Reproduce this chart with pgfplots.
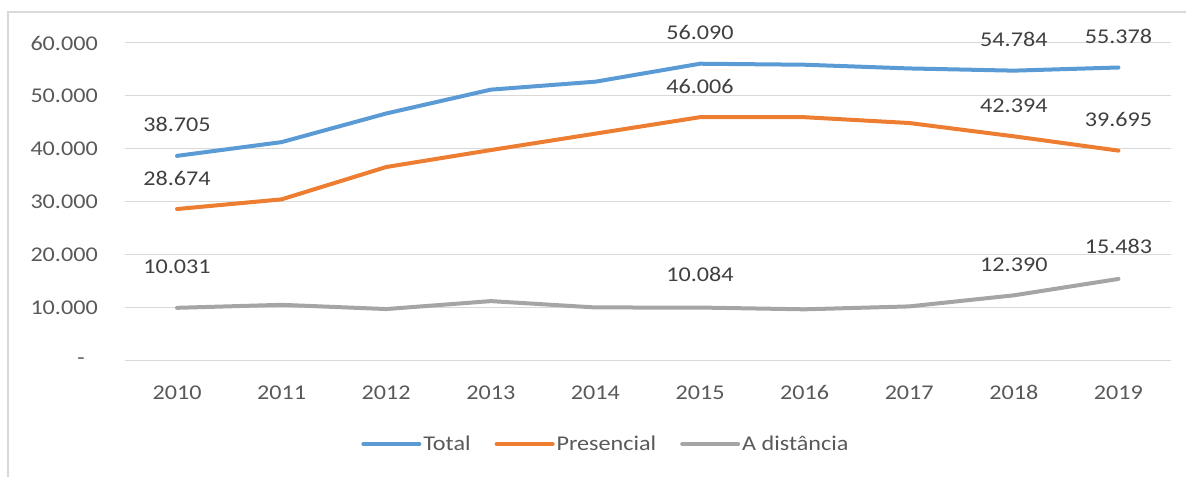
\documentclass[border=0pt]{standalone}
\usepackage{pgfplots}
\pgfplotsset{compat=1.18}
\usepackage{fontspec}
\setmainfont{Carlito}[FakeStretch=1.15]
\definecolor{cTotal}{HTML}{5B9BD5}
\definecolor{cPres}{HTML}{ED7D31}
\definecolor{cDist}{HTML}{A5A5A5}
\definecolor{cGrid}{HTML}{D9D9D9}
\definecolor{cText}{HTML}{595959}
\definecolor{cLab}{HTML}{404040}
\newcommand{\cf}{\fontsize{21bp}{25bp}\selectfont}
\begin{document}
\begin{tikzpicture}
\path[use as bounding box] (0,0) rectangle (1186bp,477bp);
\draw[cGrid, line width=1.5bp] (8bp,0) -- (8bp,465bp) -- (1186bp,465bp);
\begin{axis}[
  at={(124.7bp,116bp)}, anchor=south west,
  scale only axis, width=1046bp, height=318bp,
  xmin=-0.5, xmax=9.5, ymin=0, ymax=60000,
  axis line style={draw=none},
  xtick={0,...,9}, xticklabels={2010,2011,2012,2013,2014,2015,2016,2017,2018,2019},
  ytick={0,10000,20000,30000,40000,50000,60000},
  yticklabels={{-\hspace*{13bp}},10.000,20.000,30.000,40.000,50.000,60.000},
  scaled y ticks=false,
  ymajorgrids, major grid style={cGrid, line width=1bp},
  major tick length=0pt,
  tick label style={font=\cf, text=cText, inner sep=0pt},
  xticklabel style={anchor=center, yshift=-31.5bp},
  yticklabel style={anchor=east, xshift=-26.7bp},
  clip=false,
  legend columns=3,
  legend style={draw=none, fill=none, at={(0.46,-0.261)}, anchor=center, font=\cf, text=cText,
    /tikz/every even column/.append style={column sep=22bp}},
  legend image code/.code={\draw[line width=4bp, line cap=round, #1] (0bp,0bp) -- (56bp,0bp);},
  every axis plot/.append style={line width=4bp, line cap=round, line join=round, mark=none},
  nodes near coords style={font=\cf, text=cLab, anchor=center, inner sep=0pt},
]
\addplot[cTotal] coordinates {(0,38705) (1,41300) (2,46700) (3,51200) (4,52700) (5,56090) (6,55900) (7,55200) (8,54784) (9,55378)};
\addlegendentry{Total}
\addplot[cPres] coordinates {(0,28674) (1,30500) (2,36600) (3,39800) (4,42900) (5,46006) (6,46000) (7,44900) (8,42394) (9,39695)};
\addlegendentry{Presencial}
\addplot[cDist] coordinates {(0,10031) (1,10600) (2,9800) (3,11300) (4,10100) (5,10084) (6,9750) (7,10300) (8,12390) (9,15483)};
\addlegendentry{A distância}
% data labels
\addplot[draw=none, forget plot, nodes near coords, point meta=explicit symbolic,
  nodes near coords style={yshift=31bp}]
  coordinates {(0,38705)[38.705] (5,56090)[56.090] (8,54784)[54.784] (9,55378)[55.378]
               (0,28674)[28.674] (5,46006)[46.006] (8,42394)[42.394] (9,39695)[39.695]
               (8,12390)[12.390]};
\addplot[draw=none, forget plot, nodes near coords, point meta=explicit symbolic,
  nodes near coords style={yshift=33bp}]
  coordinates {(5,10084)[10.084] (9,15483)[15.483]};
\addplot[draw=none, forget plot, nodes near coords, point meta=explicit symbolic,
  nodes near coords style={yshift=41bp}]
  coordinates {(0,10031)[10.031]};
\end{axis}
\end{tikzpicture}
\end{document}
